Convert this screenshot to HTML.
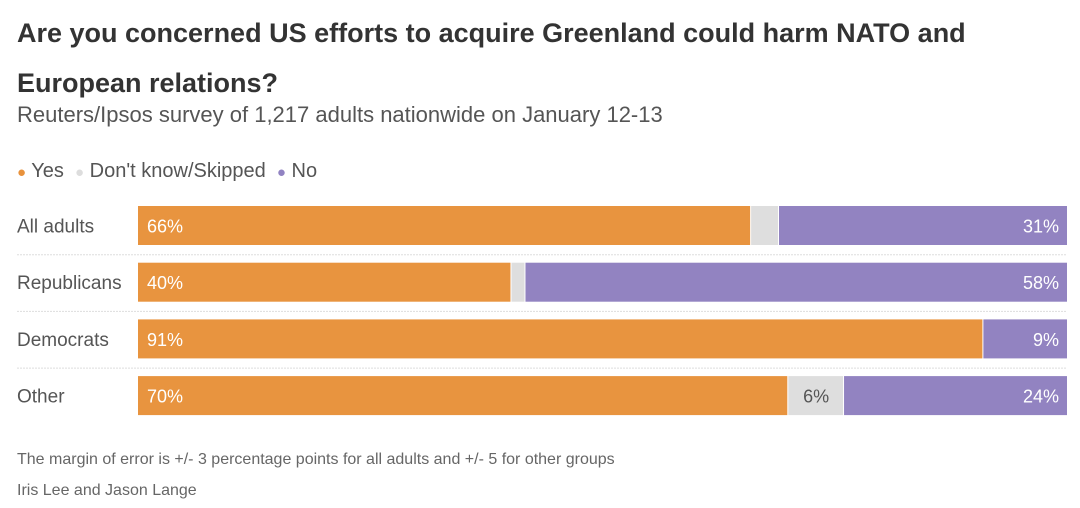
<!DOCTYPE html>
<html><head><meta charset="utf-8"><style>
body{margin:0;width:1080px;height:508px;background:#fff;font-family:"Liberation Sans",sans-serif;position:relative;overflow:hidden}
.t{position:absolute;white-space:nowrap}
</style></head><body>
<div class="t" style="left:17px;top:8px;font-size:27px;font-weight:bold;color:#333;line-height:50px;width:1060px;white-space:normal">Are you concerned US efforts to acquire Greenland could harm NATO and European relations?</div>
<div class="t" style="left:17px;top:102px;font-size:22px;color:#555">Reuters/Ipsos survey of 1,217 adults nationwide on January 12-13</div>
<div class="t" style="left:17px;top:160px;font-size:20px;color:#555">
<span><span style="color:#E8923C;font-size:15px">●</span> Yes</span>&nbsp;
<span><span style="color:#ddd;font-size:15px">●</span> Don't know/Skipped</span>&nbsp;
<span><span style="color:#9183C2;font-size:15px">●</span> No</span></div>
<svg id="chart" width="1080" height="508" style="position:absolute;left:0;top:0"></svg>
<div class="t" style="left:17px;top:451px;font-size:16px;color:#666">The margin of error is +/- 3 percentage points for all adults and +/- 5 for other groups</div>
<div class="t" style="left:17px;top:482px;font-size:16px;color:#666">Iris Lee and Jason Lange</div>
<script>
const categories=["All adults","Republicans","Democrats","Other"];
const yesVals=[66,40,91,70];
const dkVals=[3,1.5,0,6];
const noVals=[31,58,9,24];
const ns="http://www.w3.org/2000/svg",svg=document.getElementById("chart");
const x0=138,x1=1067,y0=206,step=56.7,bh=39;
const total=i=>yesVals[i]+dkVals[i]+noVals[i];
function mk(t,a){const e=document.createElementNS(ns,t);for(const k in a)e.setAttribute(k,a[k]);svg.appendChild(e);return e;}
categories.forEach((c,i)=>{
  const y=y0+i*step, sc=(x1-x0)/total(i);
  const lab=mk("text",{x:17,y:y+bh/2+7,"font-size":19,fill:"#555"});lab.textContent=c;
  
  
  if(i>0){const l=mk("line",{x1:17,x2:x1,y1:y-8,y2:y-8,stroke:"#ddd","stroke-dasharray":"2,1"});
  
  }
  const segs=[[yesVals[i],"#E8943F"],[dkVals[i],"#DEDEDE"],[noVals[i],"#9283C1"]];
  let x=x0;
  segs.forEach((s,j)=>{
    const w=s[0]*sc;
    const r=mk("rect",{x:x,y:y,width:Math.max(w-(j<2&&w>0?1:0),0),height:bh,fill:s[1]});
    
    
    if(s[0]>=5){
      const t=mk("text",{x:j==2?x+w-8:x+(j==1?w/2:9),y:y+bh/2+7,"font-size":18,fill:j==1?"#555":"#fff","text-anchor":j==2?"end":(j==1?"middle":"start")});
      t.textContent=s[0]+"%";
      
      
    }
    x+=w;
  });
});
</script>
</body></html>
